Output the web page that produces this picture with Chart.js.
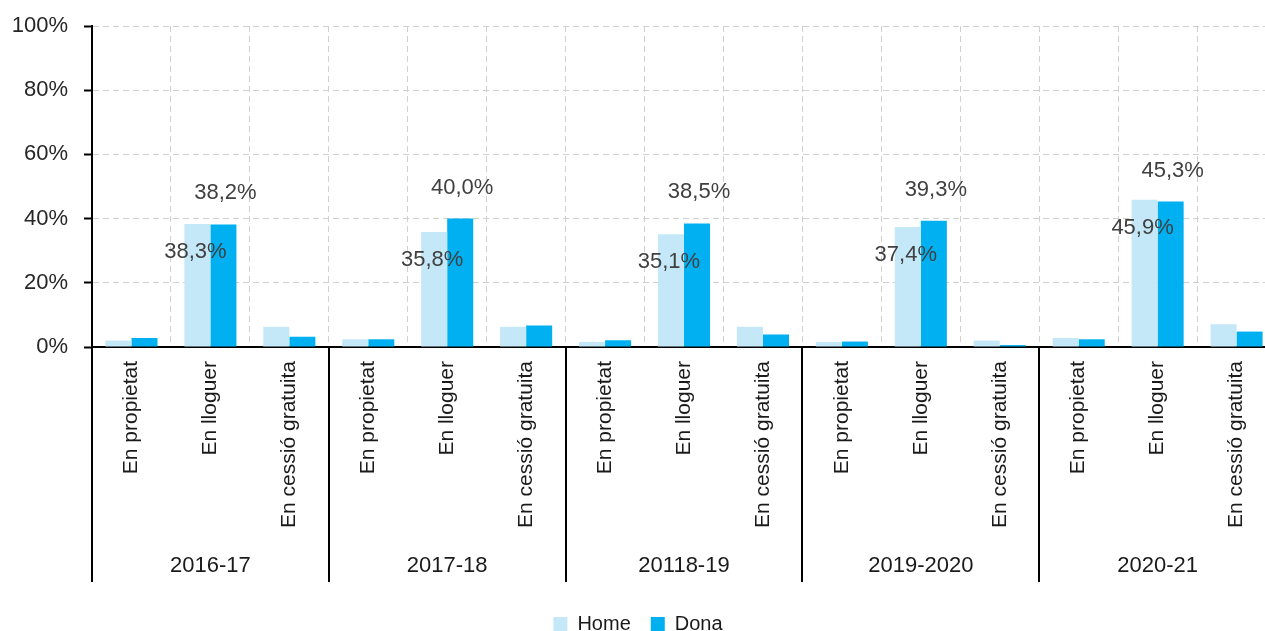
<!DOCTYPE html>
<html>
<head>
<meta charset="utf-8">
<script src="https://cdn.jsdelivr.net/npm/chart.js@4"></script>
<style>
  html, body { margin: 0; padding: 0; background: #fff; overflow: hidden; }
  #wrap { width: 1276px; height: 644px; }
</style>
</head>
<body>
<div id="wrap"><canvas id="barChart"></canvas></div>
<script>
const years = ['2016-17', '2017-18', '20118-19', '2019-2020', '2020-21'];
const tenure = ['En propietat', 'En lloguer', 'En cessió gratuita'];
const yTicks = [0, 20, 40, 60, 80, 100];

// values per year, in the order of "tenure"
const home = [2.0, 38.3, 6.3,  2.4, 35.8, 6.3,  1.6, 35.1, 6.3,  1.6, 37.4, 2.0,  2.8, 45.9, 7.1];
const dona = [2.8, 38.2, 3.2,  2.4, 40.0, 6.7,  2.1, 38.5, 3.9,  1.7, 39.3, 0.6,  2.4, 45.3, 4.8];

const labels = [];
years.forEach(() => tenure.forEach(t => labels.push(t)));

const fmt = v => v.toFixed(1).replace('.', ',') + '%';

// year groups under the axis + labels on the rent bars
const groupsPlugin = {
    id: 'groups',
    afterDraw(chart) {
        const ctx = chart.ctx;
        const x = chart.scales.x;
        const area = chart.chartArea;
        const step = x.getPixelForValue(1) - x.getPixelForValue(0);
        ctx.save();
        ctx.strokeStyle = '#000';
        ctx.lineWidth = 2;
        for (let g = 0; g <= years.length; g++) {
            const px = Math.round(x.getPixelForValue(g * tenure.length) - step / 2);
            ctx.beginPath();
            ctx.moveTo(px, area.bottom);
            ctx.lineTo(px, area.bottom + 235);
            ctx.stroke();
        }
        ctx.fillStyle = '#1a1a1a';
        ctx.font = '22px "Liberation Sans", Arial, sans-serif';
        ctx.textAlign = 'center';
        ctx.textBaseline = 'middle';
        years.forEach((yr, g) => {
            const cx = x.getPixelForValue(g * tenure.length + 1);
            ctx.fillText(yr, cx, area.bottom + 219);
        });

        ctx.fillStyle = '#404040';
        ctx.font = '22px "Liberation Sans", Arial, sans-serif';
        chart.data.datasets.forEach((ds, di) => {
            const meta = chart.getDatasetMeta(di);
            meta.data.forEach((bar, i) => {
                if (i % tenure.length !== 1) return;
                if (di === 0) {
                    ctx.fillText(fmt(ds.data[i]), bar.x - 2, bar.y + 28);
                } else {
                    ctx.fillText(fmt(ds.data[i]), bar.x + 2, bar.y - 31);
                }
            });
        });
        ctx.restore();
    }
};

new Chart(document.getElementById('barChart'), {
    type: 'bar',
    data: {
        labels: labels,
        datasets: [
            { label: 'Home', data: home, backgroundColor: '#C5E8F8' },
            { label: 'Dona', data: dona, backgroundColor: '#00B0F0' }
        ]
    },
    options: {
        responsive: true,
        maintainAspectRatio: false,
        animation: false,
        categoryPercentage: 0.66,
        barPercentage: 1,
        layout: { padding: { top: 26, right: 0, bottom: 0 } },
        plugins: {
            legend: {
                position: 'bottom',
                labels: {
                    boxWidth: 14,
                    boxHeight: 14,
                    padding: 20,
                    color: '#1a1a1a',
                    font: { size: 20, family: '"Liberation Sans", Arial, sans-serif' }
                }
            },
            tooltip: { enabled: false }
        },
        scales: {
            x: {
                afterFit: s => { s.height = 247; },
                grid: {
                    offset: true,
                    color: '#D0D0D0',
                    drawTicks: false
                },
                border: { color: '#000', width: 2, dash: [6, 4] },
                ticks: {
                    maxRotation: 90,
                    minRotation: 90,
                    autoSkip: false,
                    padding: 14,
                    color: '#1a1a1a',
                    font: { size: 21, family: '"Liberation Sans", Arial, sans-serif' }
                }
            },
            y: {
                min: 0,
                max: 100,
                afterFit: s => { s.width = 92; s.paddingTop = 0; },
                afterBuildTicks: s => { s.ticks = yTicks.map(v => ({ value: v })); },
                grid: {
                    color: '#D0D0D0',
                    tickColor: '#000',
                    tickLength: 8,
                    tickWidth: 2
                },
                border: { color: '#000', width: 2, dash: [6, 4] },
                ticks: {
                    padding: 16,
                    color: '#262626',
                    callback: v => v + '%',
                    font: { size: 22, family: '"Liberation Sans", Arial, sans-serif' }
                }
            }
        }
    },
    plugins: [groupsPlugin]
});
</script>
</body>
</html>
